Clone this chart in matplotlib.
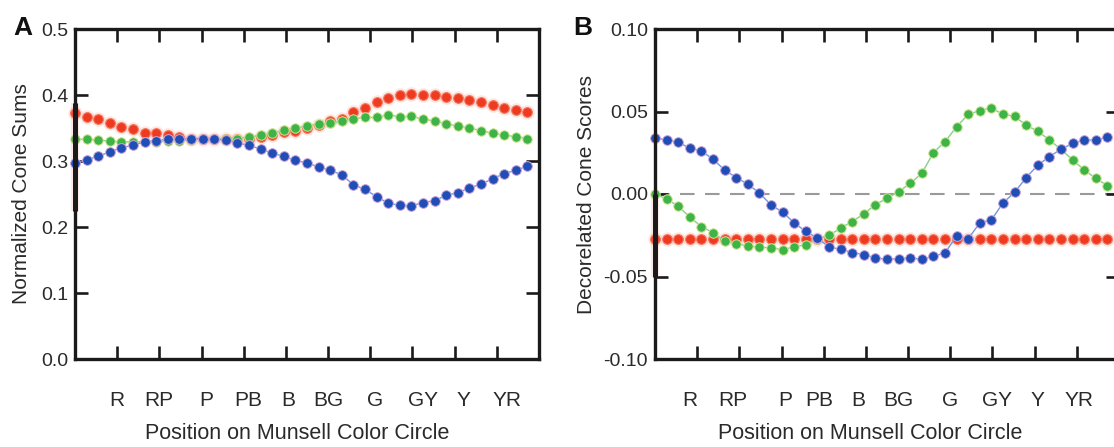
import numpy as np
import matplotlib.pyplot as plt

plt.rcParams['font.family'] = ['Liberation Sans', 'DejaVu Sans']

# 40 hue steps around the Munsell circle
steps = np.arange(40)
hues = ['R', 'RP', 'P', 'PB', 'B', 'BG', 'G', 'GY', 'Y', 'YR']
hue_label_x_a = [3.62, 7.24, 11.3, 14.9, 18.36, 21.8, 25.86, 30.0, 33.53, 37.24]
hue_label_x_b = [3.02, 6.72, 11.2, 14.2, 17.5, 20.95, 25.4, 29.5, 33.0, 36.55]

# A: normalized cone sums
sum_red = [0.372, 0.366, 0.363, 0.358, 0.352, 0.348, 0.343, 0.342, 0.339, 0.336,
           0.334, 0.333, 0.333, 0.333, 0.333, 0.333, 0.336, 0.339, 0.344, 0.346,
           0.350, 0.355, 0.360, 0.363, 0.375, 0.380, 0.390, 0.395, 0.400, 0.401,
           0.400, 0.400, 0.397, 0.396, 0.393, 0.389, 0.385, 0.381, 0.377, 0.374]
sum_green = [0.333, 0.333, 0.332, 0.330, 0.329, 0.329, 0.329, 0.329, 0.330, 0.331,
             0.332, 0.333, 0.333, 0.333, 0.334, 0.336, 0.339, 0.342, 0.347, 0.350,
             0.353, 0.356, 0.357, 0.360, 0.364, 0.366, 0.366, 0.370, 0.367, 0.368,
             0.363, 0.361, 0.356, 0.353, 0.350, 0.346, 0.342, 0.339, 0.337, 0.334]
sum_blue = [0.297, 0.302, 0.307, 0.314, 0.320, 0.324, 0.329, 0.331, 0.333, 0.333,
            0.334, 0.334, 0.333, 0.332, 0.327, 0.324, 0.318, 0.312, 0.307, 0.301,
            0.297, 0.291, 0.286, 0.279, 0.264, 0.257, 0.246, 0.236, 0.233, 0.232,
            0.237, 0.240, 0.248, 0.252, 0.259, 0.265, 0.273, 0.281, 0.286, 0.292]

# B: decorrelated cone scores
score_red = [-0.027] * 40
score_green = [0.000, -0.003, -0.0074, -0.014, -0.0197, -0.0235, -0.0287, -0.0301, -0.0315, -0.0321,
               -0.0327, -0.0337, -0.0321, -0.0307, -0.0271, -0.0251, -0.0207, -0.0167, -0.012, -0.0064,
               -0.0026, 0.0014, 0.0064, 0.0125, 0.0251, 0.0317, 0.0408, 0.0482, 0.0506, 0.0522,
               0.0482, 0.0472, 0.0416, 0.0381, 0.0327, 0.0271, 0.0207, 0.0146, 0.0095, 0.005]
score_blue = [0.0342, 0.0327, 0.0315, 0.0277, 0.0261, 0.0211, 0.0145, 0.0100, 0.0060, 0.0006,
              -0.0066, -0.011, -0.0175, -0.0227, -0.0267, -0.0321, -0.0335, -0.0355, -0.0367, -0.0387,
              -0.0396, -0.0392, -0.0387, -0.0396, -0.0378, -0.0357, -0.0255, -0.0271, -0.0175, -0.0157,
              -0.0054, 0.0010, 0.0100, 0.0175, 0.0227, 0.0271, 0.0307, 0.0327, 0.0327, 0.0345]

# dark smear on the left axis where the red trace starts
edge_a = [0.225, 0.388]
edge_b = [-0.05, 0.0]

W, H = 1114, 447
fig = plt.figure(figsize=(W / 100, H / 100), dpi=100)
axA = fig.add_axes([75 / W, 88 / H, 464 / W, 330 / H])
axB = fig.add_axes([655 / W, 88 / H, 464 / W, 330 / H])


def draw_panel(ax, red, green, blue, edge, label_x):
    ax.plot([0, 0], edge, color='#f08070', lw=6, alpha=0.18, solid_capstyle='butt', clip_on=False, zorder=4)
    ax.plot([0, 0], edge, color='#1a1a1a', lw=3.6, solid_capstyle='butt', clip_on=False, zorder=6)
    # red trace is fuzzy: halo under a solid core
    ax.plot(steps, red, 'o', ms=10.5, color='#f7a090', alpha=0.25, mec='none', clip_on=False, zorder=2)
    ax.plot(steps, red, 'o', ms=7, color='#ef3a22', mec='#f47a60', mew=0.8, clip_on=False, zorder=2)
    ax.plot(steps, green, '-', color='#86d08a', lw=1, zorder=3)
    ax.plot(steps, green, 'o', ms=6.8, mfc='#3cb44a', mec='#d6e38c', mew=0.7, clip_on=False, zorder=3)
    ax.plot(steps, blue, '-', color='#7396de', lw=1, zorder=4)
    ax.plot(steps, blue, 'o', ms=7, mfc='#1f4fb6', mec='#d2a5d8', mew=0.7, clip_on=False, zorder=4)

    ax.set_xlim(0, 40)
    ax.set_xticks([k * 40 / 11 for k in range(1, 11)])
    ax.set_xticklabels([])
    ax.set_xticks(label_x, minor=True)
    ax.set_xticklabels(hues, minor=True)
    ax.tick_params(axis='x', which='major', direction='in', length=9.5, width=1.9,
                   top=True, bottom=True, color='#1a1a1a')
    ax.tick_params(axis='x', which='minor', length=0, pad=23, labelsize=15, labelcolor='#2a2a2a')
    ax.tick_params(axis='y', direction='in', length=9.5, width=1.9, left=True, right=True,
                   pad=5, labelsize=14, labelcolor='#2a2a2a', color='#1a1a1a')
    for s in ax.spines.values():
        s.set_linewidth(2.4)
        s.set_color('#1a1a1a')
        s.set_zorder(5)
    ax.set_xlabel('Position on Munsell Color Circle', fontsize=15.5, color='#2a2a2a')


draw_panel(axA, sum_red, sum_green, sum_blue, edge_a, hue_label_x_a)
axA.set_ylim(0, 0.5)
axA.set_yticks([0, 0.1, 0.2, 0.3, 0.4, 0.5])
axA.set_yticklabels(['0.0', '0.1', '0.2', '0.3', '0.4', '0.5'])
axA.set_ylabel('Normalized Cone Sums', fontsize=15, color='#2a2a2a')
axA.yaxis.set_label_coords(-0.094, 0.5)
axA.xaxis.set_label_coords(0.478, -0.194)

draw_panel(axB, score_red, score_green, score_blue, edge_b, hue_label_x_b)
axB.axhline(0, color='#9a9a9a', lw=1.5, dashes=(7, 5), zorder=1)
axB.set_ylim(-0.1, 0.1)
axB.set_yticks([-0.1, -0.05, 0, 0.05, 0.1])
axB.set_yticklabels(['-0.10', '-0.05', '0.00', '0.05', '0.10'])
axB.set_ylabel('Decorelated Cone Scores', fontsize=15, color='#2a2a2a')
axB.yaxis.set_label_coords(-0.127, 0.5)
axB.xaxis.set_label_coords(0.463, -0.194)

fig.text(22.5 / W, 1 - 35 / H, 'A', fontsize=19, fontweight='bold', ha='center', va='baseline', color='#111111')
fig.text(583 / W, 1 - 35 / H, 'B', fontsize=19, fontweight='bold', ha='center', va='baseline', color='#111111')

fig.savefig('out.png', dpi=100, facecolor='white')
